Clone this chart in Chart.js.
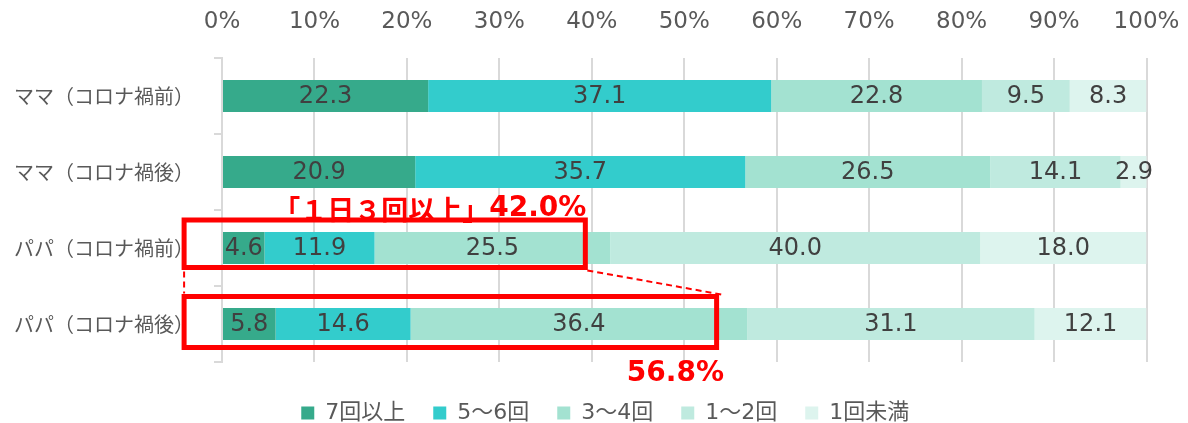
<!DOCTYPE html>
<html lang="ja">
<head>
<meta charset="utf-8">
<script src="https://cdn.jsdelivr.net/npm/chart.js@4/dist/chart.umd.min.js"></script>
<style>
  body { margin: 0; background: #fff; }
  #wrap { width: 1188px; height: 423px; position: relative; }
</style>
</head>
<body>
<div id="wrap"><canvas id="mealChart"></canvas></div>
<script>
// categories (rows) and series
const categories = ["ママ（コロナ禍前）", "ママ（コロナ禍後）", "パパ（コロナ禍前）", "パパ（コロナ禍後）"];
const seriesNames = ["7回以上", "5～6回", "3～4回", "1～2回", "1回未満"];

// values (%) per series, one per category
const times7plus = [22.3, 20.9, 4.6, 5.8];
const times5to6 = [37.1, 35.7, 11.9, 14.6];
const times3to4 = [22.8, 26.5, 25.5, 36.4];
const times1to2 = [9.5, 14.1, 40.0, 31.1];
const timesUnder1 = [8.3, 2.9, 18.0, 12.1];

// x tick values
const xTickValues = [0, 10, 20, 30, 40, 50, 60, 70, 80, 90, 100];

// callout texts
const calloutBefore = "「１日３回以上」42.0%";
const calloutAfter = "56.8%";

const seriesColors = ["#36aa8b", "#33cccc", "#a3e2d1", "#bfeadf", "#ddf4ee"];
const LATIN = "'DejaVu Sans', 'Noto Sans CJK JP', sans-serif";
const CJK = "'Noto Sans CJK JP', sans-serif";

const seriesValues = [times7plus, times5to6, times3to4, times1to2, timesUnder1];

/**
 * Value labels in the middle of each segment
 */
const segmentLabels = {
  id: "segmentLabels",
  afterDatasetsDraw(chart) {
    const ctx = chart.ctx;
    ctx.save();
    ctx.font = "24px " + LATIN;
    ctx.fillStyle = "#404040";
    ctx.textAlign = "center";
    ctx.textBaseline = "middle";
    chart.data.datasets.forEach((ds, i) => {
      const meta = chart.getDatasetMeta(i);
      meta.data.forEach((bar, j) => {
        const p = bar.getProps(["x", "y", "base"], true);
        ctx.fillText(ds.data[j].toFixed(1), (p.x + p.base) / 2, p.y + 1);
      });
    });
    ctx.restore();
  },
};

/**
 * Red boxes, dashed connectors and the two callout texts
 */
const callouts = {
  id: "callouts",
  afterDraw(chart) {
    const ctx = chart.ctx;
    const xs = chart.scales.x;
    const ys = chart.scales.y;
    const left = xs.getPixelForValue(-4.1);
    const r1 = xs.getPixelForValue(39.3);
    const r2 = xs.getPixelForValue(53.5);
    const c1 = ys.getPixelForValue(2);
    const c2 = ys.getPixelForValue(3);
    const b1 = { x: left, y: c1 - 28, w: r1 - left, h: 47.5 };
    const b2 = { x: left, y: c2 - 27.5, w: r2 - left, h: 51 };

    ctx.save();
    ctx.strokeStyle = "#ff0000";
    ctx.lineWidth = 5;
    ctx.strokeRect(b1.x, b1.y, b1.w, b1.h);
    ctx.strokeRect(b2.x, b2.y, b2.w, b2.h);

    // dashed connectors
    ctx.lineWidth = 2;
    ctx.setLineDash([6, 4]);
    ctx.beginPath();
    ctx.moveTo(b1.x + b1.w + 2, b1.y + b1.h + 3);
    ctx.lineTo(b2.x + b2.w + 5, b2.y - 2);
    ctx.moveTo(b1.x, b1.y + b1.h + 4);
    ctx.lineTo(b2.x, b2.y - 3);
    ctx.stroke();
    ctx.setLineDash([]);

    ctx.fillStyle = "#ff0000";
    ctx.textBaseline = "middle";
    ctx.textAlign = "right";
    // "42.0%" part in latin font, bracket part in CJK font
    const m = calloutBefore.match(/^(.*」)(.*)$/);
    ctx.font = "bold 28px " + LATIN;
    const tailW = ctx.measureText(m[2]).width;
    ctx.fillText(m[2], r1 + 1, c1 - 39);
    ctx.font = "bold 27px " + CJK;
    ctx.fillText(m[1], r1 + 1 - tailW, c1 - 38);

    ctx.font = "bold 28px " + LATIN;
    ctx.fillText(calloutAfter, xs.getPixelForValue(54.3), c2 + 50);
    ctx.restore();
  },
};

/**
 * Fix legend height so the plot bottom lands where it should,
 * then nudge the legend to its place under the plot
 */
const legendPlace = {
  id: "legendPlace",
  beforeLayout(chart) {
    const lg = chart.legend;
    if (lg && !lg._fixed) {
      const fit = lg.fit;
      lg.fit = function () {
        fit.call(this);
        this.height = 61;
      };
      lg._fixed = true;
    }
  },
  afterLayout(chart) {
    const lg = chart.legend;
    lg.left += 32;
    lg.right += 32;
    lg.top += 12;
    lg.bottom += 12;
  },
};

const ctx = document.getElementById("mealChart").getContext("2d");
new Chart(ctx, {
  type: "bar",
  data: {
    labels: categories,
    datasets: seriesNames.map((name, i) => ({
      label: name,
      data: seriesValues[i],
      backgroundColor: seriesColors[i],
      borderWidth: 0,
      categoryPercentage: 0.42,
      barPercentage: 1,
    })),
  },
  options: {
    indexAxis: "y",
    responsive: true,
    maintainAspectRatio: false,
    animation: false,
    layout: { padding: { left: 0, right: 41.5, top: 0, bottom: 0 } },
    scales: {
      x: {
        position: "top",
        stacked: true,
        min: 0,
        max: 100,
        afterBuildTicks: (scale) => {
          scale.ticks = xTickValues.map((v) => ({ value: v }));
        },
        afterFit: (scale) => {
          scale.height = 58;
          scale.paddingLeft = 0;
          scale.paddingRight = 0;
        },
        border: { display: false },
        grid: { color: "#d9d9d9", lineWidth: 2, drawTicks: false },
        ticks: {
          padding: 22,
          color: "#595959",
          font: { family: LATIN, size: 23 },
          callback: (v) => v + "%",
        },
      },
      y: {
        stacked: true,
        afterFit: (scale) => {
          scale.width = 222;
        },
        border: { display: true, color: "#d9d9d9", width: 2 },
        grid: {
          offset: true,
          drawOnChartArea: false,
          drawTicks: true,
          tickLength: 8,
          color: "#d9d9d9",
          lineWidth: 2,
        },
        ticks: {
          padding: 20,
          color: "#595959",
          font: { family: CJK, size: 20 },
        },
      },
    },
    plugins: {
      legend: {
        position: "bottom",
        labels: {
          boxWidth: 13,
          boxHeight: 13,
          padding: 28,
          color: "#595959",
          font: { family: LATIN, size: 22 },
        },
      },
      tooltip: { enabled: false },
    },
  },
  plugins: [segmentLabels, callouts, legendPlace],
});
</script>
</body>
</html>
